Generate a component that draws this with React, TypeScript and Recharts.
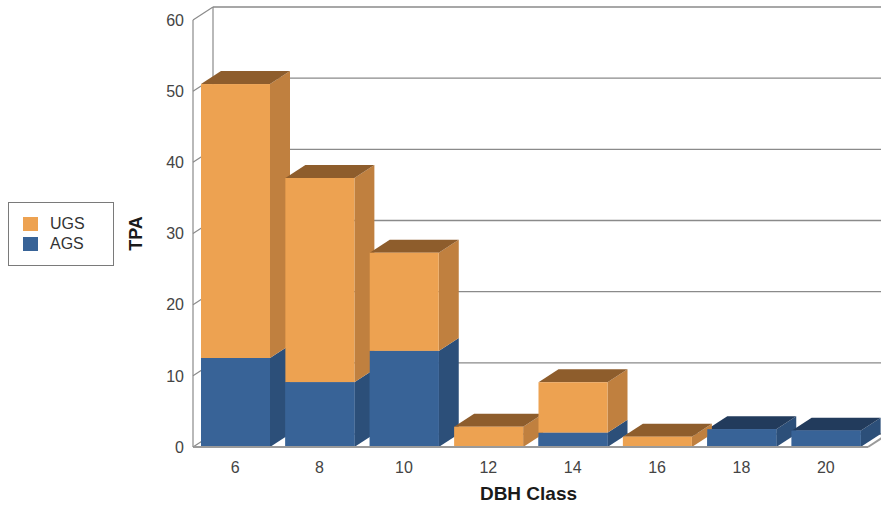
import React from 'react';
import { BarChart, Bar, XAxis, YAxis, CartesianGrid, Legend, usePlotArea } from 'recharts';

const dbhClasses = ['6', '8', '10', '12', '14', '16', '18', '20'];
const agsTpa = [12.5, 9.1, 13.5, 0, 2.0, 0, 2.5, 2.3];
const ugsTpa = [38.5, 28.7, 13.8, 2.85, 7.1, 1.45, 0, 0];
const yTicks = [0, 10, 20, 30, 40, 50, 60];
const seriesNames = ['UGS', 'AGS'];

const data = dbhClasses.map((dbh, i) => ({ dbh, ags: agsTpa[i], ugs: ugsTpa[i] }));

const FONT = '"Liberation Sans", Arial, sans-serif';
const DX = 20;
const DY = 13;
const BAR_W = 69;
const GRID = '#8a8a8a';

const ORANGE = { front: '#eda251', side: '#c0803f', top: '#8e5d2c' };
const BLUE = { front: '#386397', side: '#2c4f79', top: '#223b5c' };

// front face + right side + top, drawn from the bar rect recharts gives us
function Box3D(props: any) {
  const { x, y, width: w, height: h, colors, frontOnly, payload } = props;
  if (!h || h <= 0) return null;
  const skipTop = props.series === 'ags' && payload.ugs > 0;
  return (
    <g>
      {!frontOnly && (
        <polygon
          points={`${x + w},${y} ${x + w + DX},${y - DY} ${x + w + DX},${y + h - DY} ${x + w},${y + h}`}
          fill={colors.side}
        />
      )}
      {!frontOnly && !skipTop && (
        <polygon
          points={`${x},${y} ${x + DX},${y - DY} ${x + w + DX},${y - DY} ${x + w},${y}`}
          fill={colors.top}
        />
      )}
      <rect x={x} y={y} width={w} height={h} fill={colors.front} />
    </g>
  );
}

// gridline on the back wall plus its run across the left wall
const wallLine = (p: any) => {
  const { x1, y1, x2 } = p;
  return (
    <g key={p.key}>
      <line x1={x1} y1={y1} x2={x1 + DX} y2={y1 - DY} stroke={GRID} strokeWidth={1.2} />
      <line x1={x1 + DX} y1={y1 - DY} x2={x2 + DX} y2={y1 - DY} stroke={GRID} strokeWidth={1.4} />
    </g>
  );
};

function Frame() {
  const area = usePlotArea();
  if (!area) return null;
  const { x, y, width, height } = area;
  return (
    <g>
      <line x1={x + DX} y1={y - DY} x2={x + DX} y2={y + height - DY} stroke={GRID} strokeWidth={1.2} />
      <line x1={x + width} y1={y + height} x2={x + width + DX} y2={y + height - DY} stroke="#9a9a9a" strokeWidth={2} />
    </g>
  );
}

function XTitle(props: any) {
  const vb = props.viewBox;
  if (!vb) return null;
  return (
    <text x={vb.x + vb.width / 2 - 2} y={vb.y + vb.height - 7} textAnchor="middle"
      fontFamily={FONT} fontSize={19} fontWeight="bold" fill="#1a1a1a">
      DBH Class
    </text>
  );
}

function YTitle(props: any) {
  const vb = props.viewBox;
  if (!vb) return null;
  const cx = 136;
  const cy = vb.y + vb.height / 2;
  return (
    <text x={cx} y={cy} transform={`rotate(-90, ${cx}, ${cy})`} textAnchor="middle" dominantBaseline="central"
      fontFamily={FONT} fontSize={18} fontWeight="bold" fill="#1a1a1a">
      TPA
    </text>
  );
}

const renderLegend = () => (
  <div style={{
    width: 106, height: 64, boxSizing: 'border-box', border: '1px solid #7a7a7a',
    paddingTop: 11, paddingLeft: 14, fontFamily: FONT, fontSize: 16, color: '#333', background: '#fff'
  }}>
    {seriesNames.map(name => (
      <div key={name} style={{ display: 'flex', alignItems: 'center', height: 20 }}>
        <span style={{ display: 'inline-block', width: 15, height: 14, background: name === 'UGS' ? ORANGE.front : BLUE.front, marginRight: 12 }} />
        <span>{name}</span>
      </div>
    ))}
  </div>
);

export default function App() {
  return (
    <div style={{ position: 'absolute', left: 0, top: 0, width: 881, height: 507, background: '#fff' }}>
      <BarChart width={881} height={507} data={data} barCategoryGap="18%"
        margin={{ top: 20, right: 13, bottom: 0, left: 0 }}>
        <CartesianGrid vertical={false} horizontal={wallLine} />
        <Frame />
        <XAxis dataKey="dbh" height={60} tickLine={false} tickSize={0} tickMargin={15}
          axisLine={{ stroke: '#9a9a9a', strokeWidth: 2 }}
          tick={{ fill: '#444', fontSize: 16, fontFamily: FONT }}
          label={<XTitle />} />
        <XAxis xAxisId="front" dataKey="dbh" hide />
        <YAxis domain={[0, 60]} ticks={yTicks} width={193} tickLine={false} tickSize={0} tickMargin={9}
          axisLine={{ stroke: '#8a8a8a', strokeWidth: 1.2 }}
          tick={{ fill: '#444', fontSize: 16, fontFamily: FONT }}
          label={<YTitle />} />
        <Legend layout="vertical" align="center" verticalAlign="middle" content={renderLegend}
          wrapperStyle={{ left: 8, top: 202, width: 106, height: 64 }} />
        <Bar dataKey="ags" name="AGS" stackId="tpa" barSize={BAR_W} fill={BLUE.front} isAnimationActive={false}
          shape={(p: any) => <Box3D {...p} colors={BLUE} series="ags" />} />
        <Bar dataKey="ugs" name="UGS" stackId="tpa" barSize={BAR_W} fill={ORANGE.front} isAnimationActive={false}
          shape={(p: any) => <Box3D {...p} colors={ORANGE} series="ugs" />} />
        {/* AGS front faces again, so the orange sides of the bar to the left stay behind them */}
        <Bar xAxisId="front" dataKey="ags" barSize={BAR_W} legendType="none" fill={BLUE.front} isAnimationActive={false}
          shape={(p: any) => <Box3D {...p} colors={BLUE} frontOnly />} />
      </BarChart>
    </div>
  );
}
